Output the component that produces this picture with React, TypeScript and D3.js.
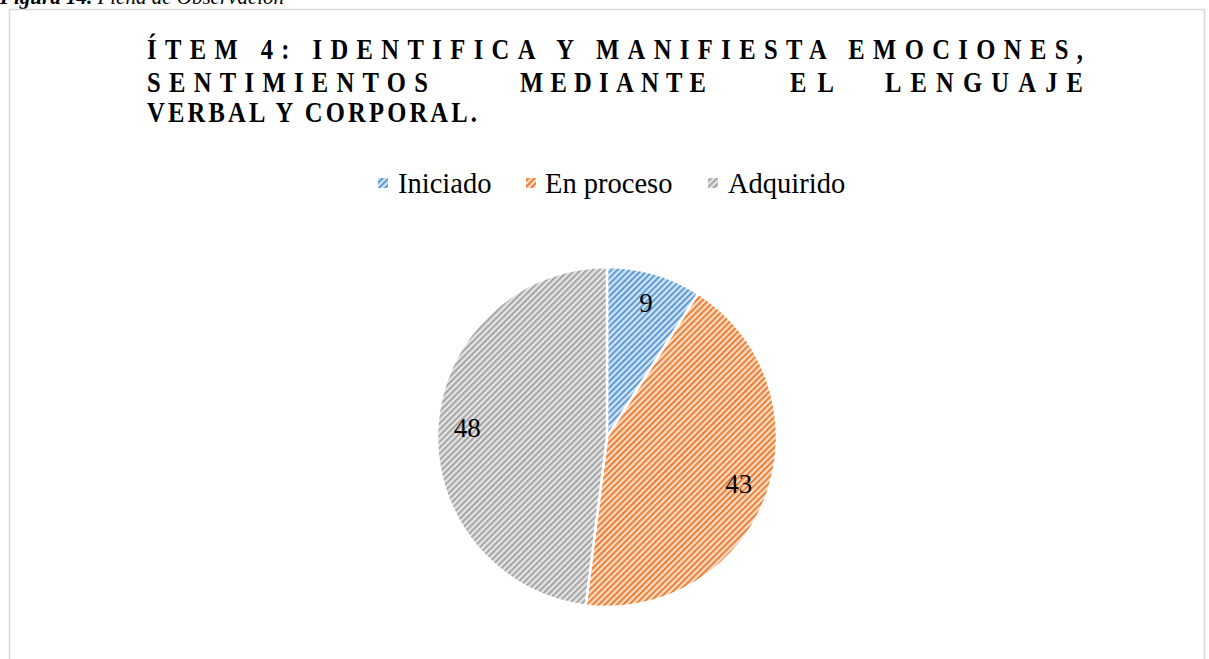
import React from "react";
import * as d3 from "d3";

const categories = ["Iniciado", "En proceso", "Adquirido"];
const values = [9, 43, 48];
const titleLine1 = "ÍTEM 4: IDENTIFICA Y MANIFIESTA EMOCIONES,";
const titleLine2Words = ["SENTIMIENTOS", "MEDIANTE", "EL", "LENGUAJE"];
const titleLine3 = "VERBAL Y CORPORAL.";
const captionBold = "Figura 14.";
const captionText = " Ficha de Observación";

const colors = ["#5b9bd5", "#ed7d31", "#a5a5a5"];
const lightColors = ["#d3e3f4", "#fbdcc6", "#e4e4e4"];

const SERIF = "'Liberation Serif', 'Times New Roman', serif";

export default function App() {
  const W = 1209, H = 659;
  const cx = 607, cy = 437, R = 170;
  const pie = d3.pie<number>().sort(null).value((d) => d)(values);
  const arc = d3.arc<d3.PieArcDatum<number>>().innerRadius(0).outerRadius(R);
  const labelArc = d3.arc<d3.PieArcDatum<number>>().innerRadius(140).outerRadius(140);

  const k = 0.82;
  const word2X = [147, 520, 790, 885];
  const word2W = [281, 186, 44, 198];
  const legendX = [378, 526, 708];
  const legendTextX = [398, 545, 728];

  return (
    <svg width={W} height={H} style={{ position: "fixed", left: 0, top: 0, background: "#fff" }}>
      <defs>
        {colors.map((c, i) => (
          <pattern key={i} id={`pat${i}`} width={4.3} height={4.3} patternUnits="userSpaceOnUse" patternTransform="rotate(45)">
            <rect width={4.3} height={4.3} fill={lightColors[i]} />
            <rect x={0} y={0} width={2} height={4.3} fill={c} />
          </pattern>
        ))}
      </defs>
      <text x={0} y={4} style={{ fontFamily: SERIF }} fontSize={21} fontStyle="italic">
        <tspan fontWeight="bold">{captionBold}</tspan>
        <tspan>{captionText}</tspan>
      </text>
      <rect x={9.5} y={9.5} width={1195} height={700} fill="#fff" stroke="#d9d9d9" strokeWidth={1.5} />
      <g style={{ fontFamily: SERIF }} fontWeight="bold" fontSize={30} fill="#000">
        <g transform={`translate(147,0) scale(${k},1)`}>
          <text x={0} y={59} textLength={936 / k} lengthAdjust="spacing">{titleLine1}</text>
        </g>
        {titleLine2Words.map((w, i) => (
          <g key={w} transform={`translate(${word2X[i]},0) scale(${k},1)`}>
            <text x={0} y={92} textLength={word2W[i] / k} lengthAdjust="spacing">{w}</text>
          </g>
        ))}
        <g transform={`translate(147,0) scale(${k},1)`}>
          <text x={0} y={122} textLength={330 / k} lengthAdjust="spacing">{titleLine3}</text>
        </g>
      </g>
      <g style={{ fontFamily: SERIF }} fontSize={28.5} fill="#000">
        {categories.map((c, i) => (
          <g key={c}>
            <rect x={legendX[i]} y={178} width={10} height={10} fill={`url(#pat${i})`} />
            <text x={legendTextX[i]} y={193}>{c}</text>
          </g>
        ))}
      </g>
      <g transform={`translate(${cx},${cy})`}>
        {pie.map((d, i) => (
          <path key={i} d={arc(d) || ""} fill={`url(#pat${i})`} stroke="#fff" strokeWidth={2.5} />
        ))}
        {pie.map((d, i) => {
          const [x, y] = labelArc.centroid(d);
          return (
            <text key={i} x={x} y={y} textAnchor="middle" dominantBaseline="central" style={{ fontFamily: SERIF }} fontSize={27} fill="#000">
              {values[i]}
            </text>
          );
        })}
      </g>
    </svg>
  );
}
